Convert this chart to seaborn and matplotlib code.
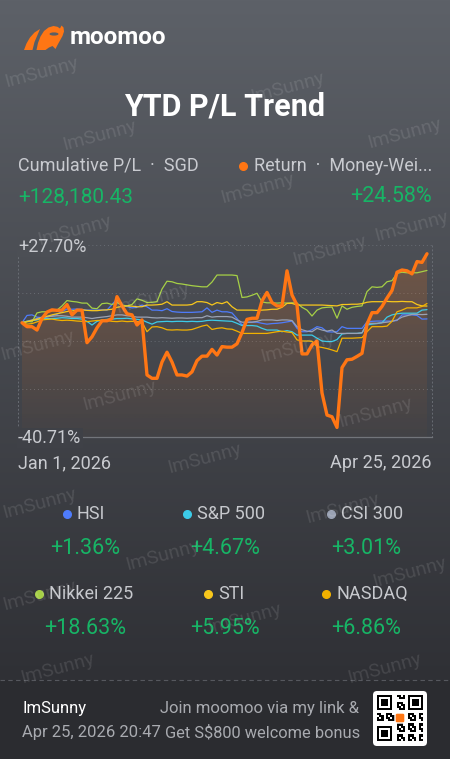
import numpy as np
import pandas as pd
import matplotlib
matplotlib.use("Agg")
import matplotlib.pyplot as plt
import seaborn as sns
from matplotlib.colors import to_rgb
from matplotlib.patches import Polygon, FancyBboxPatch, Rectangle, Ellipse

# ---------------- data ----------------
dates = pd.bdate_range("2026-01-01", "2026-04-24")   # 82 trading days

ret = [0, -1.4, -1.4, -2.6, 1.5, 3.8, 4.6, 4.4, 4.5, 6.5,
       2.8, 4.5, 4.5, -7.1, -5.0, -1.8, 0.7, 0.7, 1.5, 9.3,
       6.0, 3.2, 2.8, -0.8, 1.0, -18.6, -19.8, -19.8, -14.0, -10.5,
       -14.0, -18.6, -18.6, -19.0, -17.5, -13.5, -11.9, -11.9, -9.5, -11.5,
       -8.5, -8.7, -8.7, -7.5, -3.5, 1.2, 1.6, 1.6, 7.8, 10.8,
       7.2, 6.0, 6.0, 18.5, 9.9, 6.3, -11.1, -11.1, -7.9, -6.5,
       -25.0, -32.9, -33.5, -37.3, -16.0, -13.2, -13.0, -12.0, -10.9, -0.5,
       3.6, 3.6, 5.8, 8.8, 11.5, 18.0, 18.8, 18.5, 17.4, 21.8,
       21.5, 24.58]

hsi = [0, 2.6, 2.8, 2.0, 1.8, 2.0, 2.5, 3.0, 4.0, 4.9,
       4.8, 4.9, 4.7, 4.5, 4.5, 4.5, 4.6, 4.5, 6.5, 8.5,
       6.0, 5.8, 5.3, 5.5, 6.3, 5.7, 4.5, 4.5, 4.3, 5.0,
       4.0, 3.8, 3.7, 3.7, 3.7, 3.8, 3.9, 5.3, 3.7, 4.5,
       3.9, 3.9, 3.5, 1.5, -0.8, 0.2, 0.2, 0.2, -0.2, -0.5,
       -0.3, -0.2, 0.0, 0.3, 0.6, -2.0, -3.2, -3.2, -2.5, -1.4,
       -1.8, -3.2, -3.3, -3.2, -1.4, -2.0, -2.0, -2.0, -2.0, 0.3,
       0.5, 0.6, 0.6, 0.6, 0.6, 0.8, 2.8, 2.8, 2.8, 2.6,
       1.3, 1.36]

spx = [0, 0.5, 0.8, 1.0, 1.5, 1.5, 1.5, 1.6, 1.8, 1.7,
       1.5, 1.5, 1.3, 0.5, -0.8, 0.5, 1.0, 1.2, 1.3, 1.5,
       1.5, 1.6, 1.4, 1.2, 1.0, 0.2, -0.5, 0.3, 0.4, 0.5,
       0.4, 0.5, 0.5, 0.4, 0.5, 0.4, 0.5, 0.8, 0.9, 0.8,
       0.7, 0.6, 0.5, -0.2, -1.0, -1.0, -1.0, -1.2, -2.0, -2.6,
       -2.6, -2.6, -3.2, -2.8, -3.2, -4.4, -4.4, -4.4, -4.4, -5.5,
       -6.5, -6.7, -6.7, -6.0, -4.0, -3.8, -3.8, -3.8, -3.6, -0.8,
       -0.5, -0.3, 0.0, 2.0, 2.8, 3.2, 3.4, 3.4, 3.4, 3.4,
       4.5, 4.67]

csi = [0, 0.5, 1.0, 1.5, 2.0, 2.2, 2.3, 2.5, 2.5, 2.3,
       2.0, 2.0, 2.0, 1.8, 1.5, 1.8, 2.0, 2.2, 2.5, 2.8,
       2.8, 2.5, 2.3, 2.0, 2.0, 2.0, 1.8, 1.7, 1.8, 1.7,
       1.6, 1.7, 1.7, 1.6, 1.7, 1.8, 1.8, 2.5, 2.0, 2.2,
       2.2, 2.2, 2.0, 1.0, 0.2, 0.2, 0.2, 0.5, 1.0, 1.0,
       1.0, 0.8, 1.0, 1.0, 0.8, -1.4, -2.5, -3.0, -3.2, -2.0,
       -2.6, -3.0, -2.6, -3.8, -3.8, -3.8, -3.8, -3.8, -3.6, -0.2,
       -0.2, -0.2, 0.0, 0.2, 0.5, 1.0, 2.0, 2.5, 3.0, 3.0,
       2.9, 3.01]

nikkei = [0, 0.5, 0.3, 3.5, 3.9, 3.9, 4.2, 4.5, 6.0, 7.9,
          7.6, 7.4, 7.0, 7.0, 5.2, 5.0, 6.8, 7.0, 6.5, 7.2,
          6.3, 6.0, 6.5, 8.5, 8.0, 7.2, 7.3, 7.5, 12.0, 14.8,
          14.6, 14.0, 13.8, 13.5, 13.2, 13.0, 12.8, 12.8, 14.5, 17.0,
          17.0, 17.0, 17.0, 16.8, 9.0, 9.2, 9.8, 10.5, 7.4, 7.1,
          7.1, 7.0, 7.1, 7.0, 7.1, 7.0, 5.5, 4.5, 2.4, 4.5,
          5.3, 5.5, 5.6, 1.6, 6.0, 4.8, 5.5, 5.8, 6.0, 11.1,
          12.8, 12.6, 12.8, 14.6, 15.0, 17.6, 18.0, 17.8, 17.8, 17.8,
          18.2, 18.63]

sti = [0, 0.3, 0.8, 1.2, 1.8, 2.3, 2.8, 3.2, 3.6, 4.0,
       4.2, 4.5, 4.6, 4.4, 4.3, 4.3, 4.5, 4.6, 4.8, 5.5,
       5.8, 6.0, 5.9, 5.7, 5.7, 6.3, 6.3, 6.4, 6.6, 7.5,
       6.3, 6.3, 6.3, 6.3, 6.5, 7.5, 7.5, 7.2, 6.3, 7.2,
       6.8, 7.5, 5.7, 4.5, 4.5, 4.5, 4.5, 4.4, 4.5, 4.6,
       4.8, 4.8, 5.5, 6.9, 6.9, 6.3, 6.3, 6.3, 6.3, 6.3,
       6.3, 6.2, 6.1, 6.0, 6.5, 6.5, 6.6, 6.6, 6.8, 7.3,
       7.5, 7.5, 7.5, 7.6, 7.5, 7.5, 7.6, 7.5, 7.5, 6.5,
       6.0, 5.95]

nasdaq = [0, -0.5, -0.3, 0.3, 1.0, 1.2, 1.3, 1.0, 0.8, 0.9,
          0.8, 0.6, 0.5, 0.4, 0.6, 0.8, 0.9, 0.8, 0.5, 0.4,
          0.6, 0.4, 0.5, 0.4, 0.3, -3.2, -1.5, -1.4, -1.8, -2.5,
          -2.6, -2.5, -2.6, -2.6, -2.4, -1.8, -1.2, -0.8, -2.4, -2.0,
          -1.8, -2.2, -2.3, -3.0, -3.8, -3.8, -3.8, -3.8, -3.8, -3.8,
          -3.5, -3.2, -3.0, -3.3, -3.5, -6.1, -6.5, -6.5, -6.6, -8.5,
          -8.8, -9.2, -9.7, -10.3, -5.5, -5.5, -5.5, -5.4, -5.3, -3.2,
          -1.4, -1.4, -1.4, -1.2, 0.5, 3.9, 4.5, 5.3, 5.3, 5.3,
          5.8, 6.86]

bench_names = ['HSI', 'S&P 500', 'CSI 300', 'Nikkei 225', 'STI', 'NASDAQ']
bench_vals = [hsi, spx, csi, nikkei, sti, nasdaq]
bench_colors = ['#4f7cfc', '#3ccbe8', '#9aa2b4', '#a6d046', '#f8c71c', '#f2b100']
ret_color = '#ff7614'
green = '#17b566'

cum_pl = '+128,180.43'
y_top, y_bot = 27.70, -40.71
start_label, end_label = 'Jan 1, 2026', 'Apr 25, 2026'
user = 'ImSunny'
stamp = 'Apr 25, 2026 20:47'

df = pd.DataFrame({'day': np.arange(len(dates)), 'Return': ret})
for name, vals in zip(bench_names, bench_vals):
    df[name] = vals

# ---------------- figure ----------------
sns.set_theme(style='dark')
plt.rcParams['font.family'] = ['Roboto', 'DejaVu Sans']

W, H = 450, 759
fig = plt.figure(figsize=(W / 100, H / 100), dpi=100)
fig.patch.set_facecolor('#2b2c30')
renderer = fig.canvas.get_renderer()

# background panel in pixel coords
bg = fig.add_axes([0, 0, 1, 1], zorder=0)
bg.set_xlim(0, W)
bg.set_ylim(H, 0)
bg.axis('off')

top_c = np.array(to_rgb('#5d6168'))
mid_c = np.array(to_rgb('#2f3035'))
foot_c = np.array(to_rgb('#2b2c30'))


def bg_at(y):
    t = min(y / 680, 1)
    return tuple(top_c * (1 - t) + mid_c * t)


t = np.linspace(0, 1, 680)[:, None]
img = np.vstack([top_c * (1 - t) + mid_c * t, np.tile(foot_c, (H - 680, 1))])[:, None, :]
bg.imshow(img, extent=[0, W, H, 0], aspect='auto', zorder=0)


def label(x, y, s, **kw):
    kw.setdefault('va', 'center')
    return fig.text(x, y, s, transform=bg.transData, **kw)


# logo (rough bull silhouette)
bg.add_patch(Polygon([(24, 50), (26.5, 43.5), (30, 37.5), (34.5, 32.5), (40, 29), (37.5, 35),
                      (34.5, 42), (32.5, 50)],
                     closed=True, color=ret_color, lw=0, zorder=2))
bg.add_patch(Polygon([(36.5, 50), (38, 43), (40.5, 36.5), (44, 31), (48.5, 27.5), (53.5, 26),
                      (57.5, 26.8), (60, 28.5), (61.5, 25.5), (63.5, 27.5), (64, 31.5), (62.5, 36),
                      (60, 40.5), (57.5, 45), (55.5, 49), (52.5, 46), (49, 47.5), (45.5, 50)],
                     closed=True, color=ret_color, lw=0, zorder=2))
bg.add_patch(Ellipse((54, 34), 9, 3.2, color=bg_at(34), lw=0, zorder=3))
bg.text(70, 37, 'moomoo', color='white', fontsize=17.5, fontweight='bold', va='center', zorder=3)

# title + header
bg.text(W / 2, 107, 'YTD P/L Trend', color='white', fontsize=22, fontweight='bold',
        ha='center', va='center', zorder=3)
bg.text(18, 166, 'Cumulative P/L  ·  SGD', color='#c9cbd0', fontsize=13, va='center', zorder=3)
t_ret = bg.text(432, 166, 'Return  ·  Money-Wei...', color='#c9cbd0', fontsize=13,
                ha='right', va='center', zorder=3)
bg.plot([t_ret.get_window_extent(renderer=renderer).x0 - 11], [166], 'o', ms=5.5, color=ret_color, zorder=3)
bg.text(18, 197, cum_pl, color=green, fontsize=15, va='center', zorder=3)
bg.text(432, 197, f'{ret[-1]:+.2f}%', color=green, fontsize=15.5, ha='right', va='center', zorder=3)

# ---------------- chart ----------------
ax = fig.add_axes([18 / W, 1 - 437 / H, 414 / W, 192 / H], zorder=1)
ax.set_facecolor('none')

for name, col in zip(bench_names, bench_colors):
    sns.lineplot(data=df, x='day', y=name, ax=ax, color=col, lw=0.9, zorder=3)
sns.lineplot(data=df, x='day', y='Return', ax=ax, color=ret_color, lw=2.4, zorder=5)

# gradient fill under the return line
x = df['day'].to_numpy()
verts = np.vstack([np.column_stack([x, ret]), [[x[-1], y_bot], [x[0], y_bot]]])
clip = Polygon(verts, closed=True, transform=ax.transData, facecolor='none', edgecolor='none')
ax.add_patch(clip)
shade = np.zeros((256, 1, 4))
shade[..., :3] = to_rgb(ret_color)
shade[..., 3] = np.linspace(0.22, 0.02, 256)[:, None]
im = ax.imshow(shade, extent=[x[0], x[-1], y_bot, y_top], aspect='auto', origin='upper', zorder=2)
im.set_clip_path(clip)

grid_c = '#686c73'
ax.set_xlim(-0.8, 82.0)
ax.set_ylim(y_bot, y_top)
ax.set_xticks([])
ax.set_yticks(np.linspace(y_bot, y_top, 5)[1:-1])
ax.tick_params(left=False, labelleft=False, bottom=False, labelbottom=False)
ax.set_xlabel('')
ax.set_ylabel('')
ax.grid(axis='y', color=grid_c, ls=(0, (1, 3)), lw=0.7)
ax.grid(axis='x', visible=False)
ax.axhline(y_top, color=grid_c, ls=(0, (1, 3)), lw=0.7, clip_on=False)
for side in ['left', 'right']:
    ax.spines[side].set_visible(True)
    ax.spines[side].set_color(grid_c)
    ax.spines[side].set_linestyle((0, (1, 3)))
    ax.spines[side].set_linewidth(0.7)
ax.spines['top'].set_visible(False)
ax.spines['bottom'].set_visible(True)
ax.spines['bottom'].set_color('#72757b')
ax.spines['bottom'].set_linewidth(0.9)

label(18, 247, f'{y_top:+.2f}%', color='#c9cbd0', fontsize=13,
      bbox=dict(facecolor=bg_at(247), edgecolor='none', pad=1))
label(18, 438, f'{y_bot:+.2f}%', color='#c9cbd0', fontsize=13,
      bbox=dict(facecolor=bg_at(438), edgecolor='none', pad=1))
label(18, 463, start_label, color='#c9cbd0', fontsize=13)
label(432, 463, end_label, color='#c9cbd0', fontsize=13, ha='right')

# ---------------- benchmark legend ----------------
col_x = [85, 225, 366]
row_y = [(514, 548), (594, 628)]
for i, (name, vals, col) in enumerate(zip(bench_names, bench_vals, bench_colors)):
    cx = col_x[i % 3]
    ly, vy = row_y[i // 3]
    t_name = bg.text(cx + 6, ly, name, color='#c6c8cd', fontsize=13, ha='center', va='center', zorder=3)
    x0 = t_name.get_window_extent(renderer=renderer).x0
    bg.plot([x0 - 10], [ly], 'o', ms=5.5, color=col, zorder=3)
    bg.text(cx, vy, f'{vals[-1]:+.2f}%', color=green, fontsize=15.5, ha='center', va='center', zorder=3)

# ---------------- footer ----------------
bg.plot([0, W], [680, 680], color='#56585e', ls=(0, (4, 3)), lw=0.8, zorder=2)
bg.text(22, 709, user, color='white', fontsize=12, va='center', zorder=3)
bg.text(22, 733, stamp, color='#a9abb0', fontsize=12, va='center', zorder=3)
bg.text(359, 708, 'Join moomoo via my link &', color='#a9abb0', fontsize=12, ha='right', va='center', zorder=3)
bg.text(360, 733, r'Get S\$800 welcome bonus', color='#a9abb0', fontsize=11.8, ha='right', va='center', zorder=3)

# qr card
bg.add_patch(FancyBboxPatch((373, 691), 54, 55, boxstyle='round,pad=0,rounding_size=4',
                            color='white', lw=0, zorder=3))
n = 21
cell = 46 / n
for i in range(n):
    for j in range(n):
        finder = (i < 8 and j < 8) or (i < 8 and j >= n - 8) or (i >= n - 8 and j < 8)
        if finder:
            continue
        if (i * 7 + j * 13 + i * j) % 5 < 3:
            bg.add_patch(Rectangle((377 + j * cell, 695 + i * cell), cell, cell, color='black', lw=0, zorder=4))
for fx, fy in [(377, 695), (377 + (n - 7) * cell, 695), (377, 695 + (n - 7) * cell)]:
    s = 7 * cell
    bg.add_patch(Rectangle((fx, fy), s, s, color='black', lw=0, zorder=4))
    bg.add_patch(Rectangle((fx + cell, fy + cell), s - 2 * cell, s - 2 * cell, color='white', lw=0, zorder=4))
    bg.add_patch(Rectangle((fx + 2 * cell, fy + 2 * cell), s - 4 * cell, s - 4 * cell, color='black', lw=0, zorder=4))
bg.add_patch(FancyBboxPatch((395, 713), 10, 10, boxstyle='round,pad=0,rounding_size=2',
                            color=ret_color, ec='white', lw=1, zorder=5))

# watermarks
marks = [(42, 72), (288, 87), (100, 135), (405, 133), (258, 188), (75, 230), (330, 250),
         (412, 226), (153, 298), (38, 345), (298, 347), (120, 395), (376, 412), (205, 458),
         (40, 503), (343, 508), (163, 555), (410, 572), (40, 595), (245, 618), (58, 668), (385, 668)]
for mx, my in marks:
    fig.text(mx, my, user, transform=bg.transData, color='white', alpha=0.11, fontsize=14,
             rotation=15, ha='center', va='center', zorder=10)

fig.savefig('out.png', dpi=100, facecolor=fig.get_facecolor())
